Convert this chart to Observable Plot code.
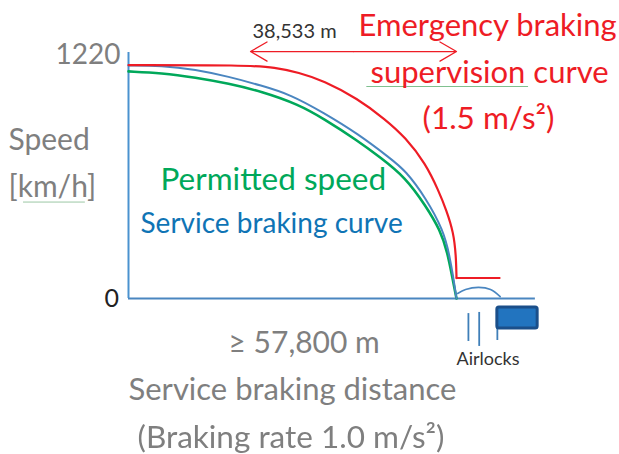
<!DOCTYPE html>
<html>
<head>
<meta charset="utf-8">
<script src="https://cdn.jsdelivr.net/npm/d3@7"></script>
<script src="https://cdn.jsdelivr.net/npm/@observablehq/plot@0.6"></script>
<style>
html,body{margin:0;padding:0;background:#fff}
svg{display:block;filter:blur(0.45px)}
</style>
</head>
<body>
<div id="chart"></div>
<script>
const redDistance = [0,20620,25900,29960,34360,40350,45290,48810,52340,54630,56040,57270,57710,57800];
const redSpeed = [1222,1222,1210,1183,1141,1047,937,843,707,565,461,346,225,107];
const blueDistance = [0,5815,11810,17620,23440,28550,34360,40350,46170,48810,52340,55510,56570,57270,57800];
const blueSpeed = [1220,1220,1199,1162,1115,1068,973,864,733,670,529,356,225,105,0];
const greenDistance = [0,5815,11810,17620,23440,29960,34360,40350,44410,48810,52340,54980,56210,57100,57800];
const greenSpeed = [1189,1181,1157,1126,1084,1016,942,827,738,634,487,356,241,105,0];
const releaseDistance = [57800,65400];
const releaseSpeed = [107,107];
const arcDistance = [58000,59400,61700,63800,65500];
const arcSpeed = [26,47,58,47,10];
const airlockDistance = [59900,61800,65000];
const airlockTop = [-79,-73,-141];
const airlockBottom = [-225,-251,-220];

const toRows = (xs, ys) => xs.map((x, i) => ({x, y: ys[i]}));
const RED = "#ee1c25", BLUE = "#4a86c0", GREEN = "#00a85a", GRAY = "#7f7f7f";
const SANS = "Lato, 'Open Sans', sans-serif";
const label = (t, px, py, size, fill, extra = {}) =>
  Plot.text([t], {text: d => d, frameAnchor: "top-left", dx: px, dy: py, fontSize: size, fill,
    fontFamily: SANS, textAnchor: "start", lineAnchor: "middle", ...extra});

const chart = Plot.plot({
  width: 619, height: 454,
  margin: 0,
  style: {background: "#fff", overflow: "visible"},
  x: {domain: [0, 57800], range: [128, 456], axis: null},
  y: {domain: [0, 1220], range: [298, 65], axis: null},
  marks: [
    Plot.ruleY([0], {x1: 0, x2: 71700, stroke: BLUE, strokeWidth: 2}),
    Plot.ruleX([0], {y1: 0, y2: 1288, stroke: "#4a92cf", strokeWidth: 2}),
    Plot.line(toRows(greenDistance, greenSpeed), {x: "x", y: "y", stroke: GREEN, strokeWidth: 2.6, curve: "basis"}),
    Plot.line(toRows(blueDistance, blueSpeed), {x: "x", y: "y", stroke: BLUE, strokeWidth: 2, curve: "basis"}),
    Plot.line(toRows(redDistance, redSpeed), {x: "x", y: "y", stroke: RED, strokeWidth: 2.2, curve: "basis"}),
    Plot.line(toRows(releaseDistance, releaseSpeed), {x: "x", y: "y", stroke: RED, strokeWidth: 2}),
    Plot.line(toRows(arcDistance, arcSpeed), {x: "x", y: "y", stroke: BLUE, strokeWidth: 1.6, curve: "catmull-rom"}),
    Plot.ruleX(airlockDistance.map((x, i) => ({x, a: airlockTop[i], b: airlockBottom[i]})),
      {x: "x", y1: "a", y2: "b", stroke: "#3f7fb8", strokeWidth: 1.8}),
    Plot.rect([{}], {x1: 65000, x2: 72100, y1: -47, y2: -157, fill: "#2274bf", stroke: "#1b4f8a", strokeWidth: 3, rx: 2}),
    Plot.arrow([{}], {x1: 39700, y1: 1293, x2: 21500, y2: 1293, stroke: RED, strokeWidth: 1.3, headLength: 22, bend: 0}),
    Plot.arrow([{}], {x1: 39700, y1: 1293, x2: 57800, y2: 1293, stroke: RED, strokeWidth: 1.3, headLength: 22, bend: 0}),
    Plot.ruleY([1110], {x1: 42000, x2: 70500, stroke: "#7fc08f", strokeWidth: 1}),
    Plot.ruleY([505], {x1: -18500, x2: -7600, stroke: "#9cc7a4", strokeWidth: 1}),

    label("1220", 55, 55, 28, GRAY),
    label("0", 104, 298, 25, "#222"),
    label("Speed", 8, 140, 30, GRAY),
    label("[km/h]", 8, 187, 30, GRAY),
    label("38,533 m", 252, 31, 20, "#333"),
    label("Emergency braking", 358, 26, 31, RED),
    label("supervision curve", 370, 73, 31, RED),
    label("(1.5 m/s²)", 422, 118, 31.5, RED),
    label("Permitted speed", 160, 179, 31.5, GREEN),
    label("Service braking curve", 140, 224, 28, "#0f74b5"),
    label("≥ 57,800 m", 228, 343, 30, GRAY),
    label("Service braking distance", 128, 390, 31, GRAY),
    label("(Braking rate 1.0 m/s²)", 137, 437, 31.5, GRAY),
    label("Airlocks", 456, 359, 18, "#333")
  ]
});
document.getElementById("chart").append(chart);
</script>
</body>
</html>
